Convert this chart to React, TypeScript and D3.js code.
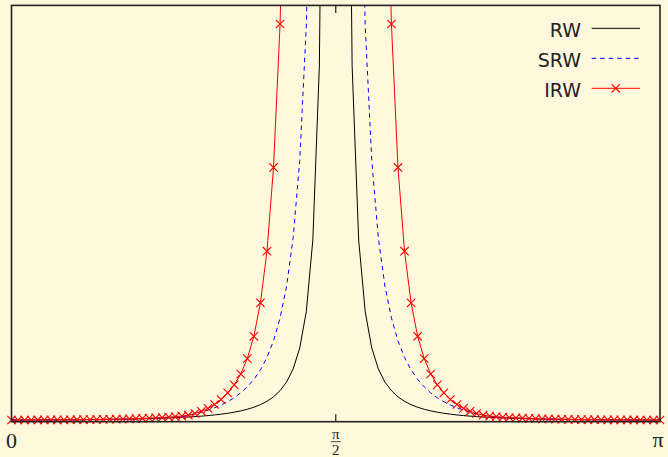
import React from "react";
import * as d3 from "d3";

// Sample grid: 100 equally spaced frequencies on [0, π]
const N_SAMPLES = 100;
const OMEGA = d3.range(N_SAMPLES).map((i) => (i * Math.PI) / (N_SAMPLES - 1));

// Pseudo-spectra of the three trend models at each sample frequency
const RW = [
  0.76, 0.761, 0.764, 0.769, 0.776, 0.786, 0.797, 0.811, 0.827, 0.846,
  0.868, 0.892, 0.92, 0.952, 0.987, 1.026, 1.07, 1.118, 1.173, 1.234,
  1.302, 1.378, 1.464, 1.56, 1.669, 1.792, 1.932, 2.092, 2.275, 2.487,
  2.732, 3.019, 3.357, 3.76, 4.244, 4.833, 5.556, 6.46, 7.61, 9.107,
  11.11, 13.88, 17.75, 23.6, 32.92, 49.13, 81.16, 158.98, 441.4, 3972,
  3972, 441.4, 158.98, 81.16, 49.13, 32.92, 23.6, 17.75, 13.88, 11.11,
  9.107, 7.61, 6.46, 5.556, 4.833, 4.244, 3.76, 3.357, 3.019, 2.732,
  2.487, 2.275, 2.092, 1.932, 1.792, 1.669, 1.56, 1.464, 1.378, 1.302,
  1.234, 1.173, 1.118, 1.07, 1.026, 0.987, 0.952, 0.92, 0.892, 0.868,
  0.846, 0.827, 0.811, 0.797, 0.786, 0.776, 0.769, 0.764, 0.761, 0.76,
];

const SRW = [
  0.76, 0.761, 0.764, 0.77, 0.778, 0.788, 0.8, 0.816, 0.833, 0.854,
  0.878, 0.905, 0.937, 0.972, 1.012, 1.057, 1.108, 1.164, 1.229, 1.302,
  1.385, 1.48, 1.588, 1.711, 1.853, 2.018, 2.24, 2.74, 3.454, 4.236,
  5.139, 6.211, 7.462, 8.937, 10.72, 12.91, 15.59, 18.9, 23.17, 28.69,
  36.1, 46.34, 60.63, 82.26, 116.7, 176.6, 295, 582.5, 1626, 14674,
  14674, 1626, 582.5, 295, 176.6, 116.7, 82.26, 60.63, 46.34, 36.1,
  28.69, 23.17, 18.9, 15.59, 12.91, 10.72, 8.937, 7.462, 6.211, 5.139,
  4.236, 3.454, 2.74, 2.24, 2.018, 1.853, 1.711, 1.588, 1.48, 1.385,
  1.302, 1.229, 1.164, 1.108, 1.057, 1.012, 0.972, 0.937, 0.905, 0.878,
  0.854, 0.833, 0.816, 0.8, 0.788, 0.778, 0.77, 0.764, 0.761, 0.76,
];

const IRW = [
  0.76, 0.761, 0.764, 0.77, 0.779, 0.79, 0.803, 0.82, 0.839, 0.862,
  0.888, 0.918, 0.953, 0.992, 1.037, 1.087, 1.145, 1.21, 1.285, 1.37,
  1.468, 1.581, 1.711, 1.861, 2.037, 2.244, 2.489, 2.904, 3.664, 4.647,
  5.943, 7.685, 9.92, 12.9, 16.44, 21.31, 28.2, 38.16, 53.08, 76.18,
  113.6, 177.7, 291.3, 516.1, 1006, 2245, 6135, 23564, 181800, 14725000,
  14725000, 181800, 23564, 6135, 2245, 1006, 516.1, 291.3, 177.7, 113.6,
  76.18, 53.08, 38.16, 28.2, 21.31, 16.44, 12.9, 9.92, 7.685, 5.943,
  4.647, 3.664, 2.904, 2.489, 2.244, 2.037, 1.861, 1.711, 1.581, 1.468,
  1.37, 1.285, 1.21, 1.145, 1.087, 1.037, 0.992, 0.953, 0.918, 0.888,
  0.862, 0.839, 0.82, 0.803, 0.79, 0.779, 0.77, 0.764, 0.761, 0.76,
];

const SERIES_NAMES = ["RW", "SRW", "IRW"];
const X_TICK_VALUES = [0, Math.PI / 2, Math.PI];
const Y_MAX = 186;

const W = 668;
const H = 457;
const PLOT = { left: 11.5, right: 660, top: 5.4, bottom: 421.7 };
const BG = "#FFF8DC";
const FRAME = "#222222";
const MARK_R = 4.2;

const x = d3.scaleLinear().domain([0, Math.PI]).range([PLOT.left, PLOT.right]);
const y = d3.scaleLinear().domain([0, Y_MAX]).range([PLOT.bottom, PLOT.top]);

const styles: Record<string, { color: string; dash?: string; marker?: boolean }> = {
  RW: { color: "#000000" },
  SRW: { color: "#0000ff", dash: "4.5 4" },
  IRW: { color: "#ff0000", marker: true },
};

const valuesByName: Record<string, number[]> = { RW, SRW, IRW };

function Cross({ cx, cy, r, color }: { cx: number; cy: number; r: number; color: string }) {
  return (
    <path
      d={`M${cx - r},${cy - r}L${cx + r},${cy + r}M${cx - r},${cy + r}L${cx + r},${cy - r}`}
      stroke={color}
      strokeWidth={1.1}
      fill="none"
    />
  );
}

export default function App() {
  const line = d3
    .line<[number, number]>()
    .x((d) => x(d[0]))
    .y((d) => y(d[1]));

  const irwPoints = OMEGA.map((w, i) => [w, IRW[i]] as [number, number]).filter(
    (d) => d[1] <= Y_MAX
  );

  const legendRows = SERIES_NAMES.map((name, i) => ({ name, baseline: 36.7 + i * 30 }));

  return (
    <svg
      width={W}
      height={H}
      viewBox={`0 0 ${W} ${H}`}
      style={{ position: "absolute", left: 0, top: 0, display: "block" }}
    >
      <defs>
        <clipPath id="plot-area">
          <rect
            x={PLOT.left}
            y={PLOT.top}
            width={PLOT.right - PLOT.left}
            height={PLOT.bottom - PLOT.top}
          />
        </clipPath>
      </defs>
      <rect x={0} y={0} width={W} height={H} fill={BG} />

      {/* curves */}
      <g clipPath="url(#plot-area)">
        {SERIES_NAMES.map((name) => {
          const vals = valuesByName[name];
          const pts = OMEGA.map((w, i) => [w, vals[i]] as [number, number]);
          const st = styles[name];
          return (
            <path
              key={name}
              d={line(pts) || ""}
              fill="none"
              stroke={st.color}
              strokeWidth={1}
              strokeDasharray={st.dash}
            />
          );
        })}
      </g>

      {/* IRW markers */}
      <g>
        {irwPoints.map((d, i) => (
          <Cross key={i} cx={x(d[0])} cy={y(d[1])} r={MARK_R} color="#ff0000" />
        ))}
      </g>

      {/* frame */}
      <rect
        x={PLOT.left}
        y={PLOT.top}
        width={PLOT.right - PLOT.left}
        height={PLOT.bottom - PLOT.top}
        fill="none"
        stroke={FRAME}
        strokeWidth={1.6}
      />

      {/* ticks at π/2 */}
      <line
        x1={x(X_TICK_VALUES[1])}
        x2={x(X_TICK_VALUES[1])}
        y1={PLOT.bottom}
        y2={PLOT.bottom - 7.5}
        stroke={FRAME}
        strokeWidth={1.2}
      />
      <line
        x1={x(X_TICK_VALUES[1])}
        x2={x(X_TICK_VALUES[1])}
        y1={PLOT.top}
        y2={PLOT.top + 7.5}
        stroke={FRAME}
        strokeWidth={1.2}
      />

      {/* tick labels */}
      <g fontFamily="'Liberation Serif', 'DejaVu Serif', serif" fill="#222">
        <text x={x(X_TICK_VALUES[0])} y={448} fontSize={22} textAnchor="middle">
          0
        </text>
        <text x={x(X_TICK_VALUES[2]) - 2} y={447} fontSize={22} textAnchor="middle">
          π
        </text>
        <text x={x(X_TICK_VALUES[1])} y={438.5} fontSize={15} textAnchor="middle">
          π
        </text>
        <line
          x1={x(X_TICK_VALUES[1]) - 5}
          x2={x(X_TICK_VALUES[1]) + 5}
          y1={441.7}
          y2={441.7}
          stroke="#222"
          strokeWidth={0.8}
        />
        <text x={x(X_TICK_VALUES[1])} y={455} fontSize={15} textAnchor="middle">
          2
        </text>
      </g>

      {/* legend */}
      <g fontFamily="'DejaVu Sans', sans-serif" fontSize={19} fill="#222">
        {legendRows.map((row) => {
          const st = styles[row.name];
          const ly = row.baseline - 8.4;
          return (
            <g key={row.name}>
              <text x={581} y={row.baseline} textAnchor="end">
                {row.name}
              </text>
              <line
                x1={591.7}
                x2={640}
                y1={ly}
                y2={ly}
                stroke={st.color}
                strokeWidth={1}
                strokeDasharray={st.dash}
              />
              {st.marker && <Cross cx={615.8} cy={ly} r={MARK_R} color={st.color} />}
            </g>
          );
        })}
      </g>
    </svg>
  );
}
